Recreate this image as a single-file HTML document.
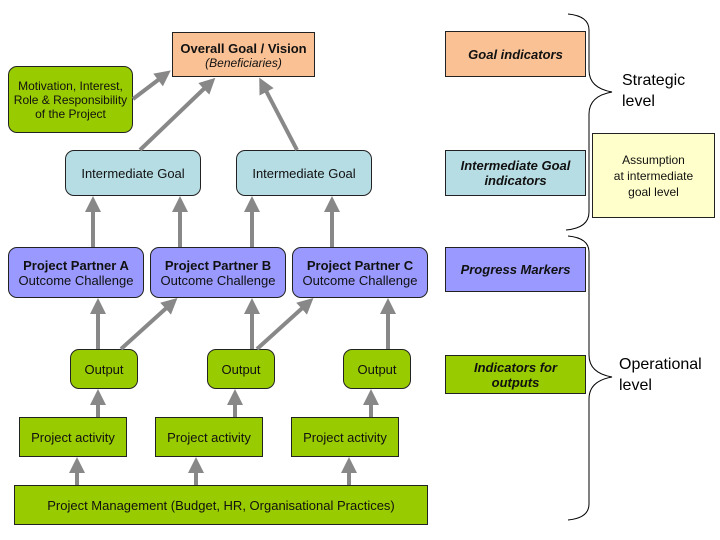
<!DOCTYPE html>
<html><head><style>
body{margin:0;background:#fff;width:720px;height:540px;position:relative;overflow:hidden;font-family:"Liberation Sans",sans-serif;}
.b{position:absolute;box-sizing:border-box;border:1px solid #222;display:flex;flex-direction:column;align-items:center;justify-content:center;text-align:center;color:#111;font-size:13px;line-height:15px}
.r{border-radius:9px}
.g{background:#99cc00}.bl{background:#b7dde4}.p{background:#9999ff}.o{background:#fac194}
.bi{font-weight:bold;font-style:italic}
svg{position:absolute;left:0;top:0}
</style></head><body>
<div class="b o" style="left:172px;top:32px;width:143px;height:45px;justify-content:flex-start;padding-top:8px"><b>Overall Goal / Vision</b><i style="font-size:12px;font-weight:bold;font-weight:normal">(Beneficiaries)</i></div>
<div class="b g r" style="left:8px;top:66px;width:125px;height:67px;font-size:12px;line-height:14px">Motivation, Interest,<br>Role &amp; Responsibility<br>of the Project</div>
<div class="b bl r" style="left:65px;top:150px;width:136px;height:46px">Intermediate Goal</div>
<div class="b bl r" style="left:236px;top:150px;width:136px;height:46px">Intermediate Goal</div>
<div class="b p r" style="left:8px;top:247px;width:136px;height:51px;justify-content:flex-start;padding-top:10px"><b>Project Partner A</b>Outcome Challenge</div>
<div class="b p r" style="left:150px;top:247px;width:136px;height:51px;justify-content:flex-start;padding-top:10px"><b>Project Partner B</b>Outcome Challenge</div>
<div class="b p r" style="left:292px;top:247px;width:136px;height:51px;justify-content:flex-start;padding-top:10px"><b>Project Partner C</b>Outcome Challenge</div>
<div class="b g r" style="left:70px;top:349px;width:68px;height:40px">Output</div>
<div class="b g r" style="left:207px;top:349px;width:68px;height:40px">Output</div>
<div class="b g r" style="left:343px;top:349px;width:68px;height:40px">Output</div>
<div class="b g" style="left:19px;top:417px;width:108px;height:40px">Project activity</div>
<div class="b g" style="left:155px;top:417px;width:108px;height:40px">Project activity</div>
<div class="b g" style="left:291px;top:417px;width:108px;height:40px">Project activity</div>
<div class="b g" style="left:14px;top:485px;width:414px;height:40px">Project Management (Budget, HR, Organisational Practices)</div>
<div class="b o bi" style="left:445px;top:31px;width:141px;height:46px">Goal indicators</div>
<div class="b bl bi" style="left:445px;top:150px;width:141px;height:46px">Intermediate Goal<br>indicators</div>
<div class="b p bi" style="left:445px;top:247px;width:141px;height:45px">Progress Markers</div>
<div class="b g bi" style="left:445px;top:355px;width:141px;height:39px">Indicators for<br>outputs</div>
<div class="b" style="left:592px;top:133px;width:123px;height:85px;background:#ffffcc;font-size:12px;line-height:16px;justify-content:flex-start;padding-top:18px">Assumption<br>at intermediate<br>goal level</div>
<div style="position:absolute;left:622px;top:70px;font-size:16px;line-height:21px">Strategic<br>level</div>
<div style="position:absolute;left:619px;top:354px;font-size:16px;line-height:21px">Operational<br>level</div>
<svg width="720" height="540">
<defs><marker id="a" markerWidth="4" markerHeight="4" refX="2.5" refY="2" orient="auto" markerUnits="strokeWidth"><path d="M0,0L4,2L0,4z" fill="#888"/></marker></defs>
<g stroke="#888" stroke-width="4" marker-end="url(#a)" fill="none">
<line x1="133" y1="99" x2="166" y2="74"/>
<line x1="140" y1="150" x2="211" y2="82"/>
<line x1="297" y1="150" x2="262" y2="83"/>
<line x1="93" y1="247" x2="93" y2="202"/>
<line x1="180" y1="247" x2="180" y2="202"/>
<line x1="252" y1="247" x2="252" y2="202"/>
<line x1="332" y1="247" x2="332" y2="202"/>
<line x1="98" y1="349" x2="98" y2="304"/>
<line x1="121" y1="349" x2="173" y2="302"/>
<line x1="252" y1="349" x2="252" y2="304"/>
<line x1="257" y1="349" x2="309" y2="302"/>
<line x1="388" y1="349" x2="388" y2="304"/>
<line x1="98" y1="417" x2="98" y2="395"/>
<line x1="235" y1="417" x2="235" y2="395"/>
<line x1="371" y1="417" x2="371" y2="395"/>
<line x1="77" y1="485" x2="77" y2="463"/>
<line x1="196" y1="485" x2="196" y2="463"/>
<line x1="349" y1="485" x2="349" y2="463"/>
</g>
<g stroke="#000" stroke-width="1" fill="none">
<path d="M568,14 Q589,16 589,30 L589,70 Q589,88 612,92 Q589,96 589,114 L589,212 Q589,228 566,230"/>
<path d="M568,236 Q589,238 589,252 L589,355 Q589,373 612,377 Q589,381 589,399 L589,504 Q589,518 568,520"/>
</g>
</svg>
</body></html>
